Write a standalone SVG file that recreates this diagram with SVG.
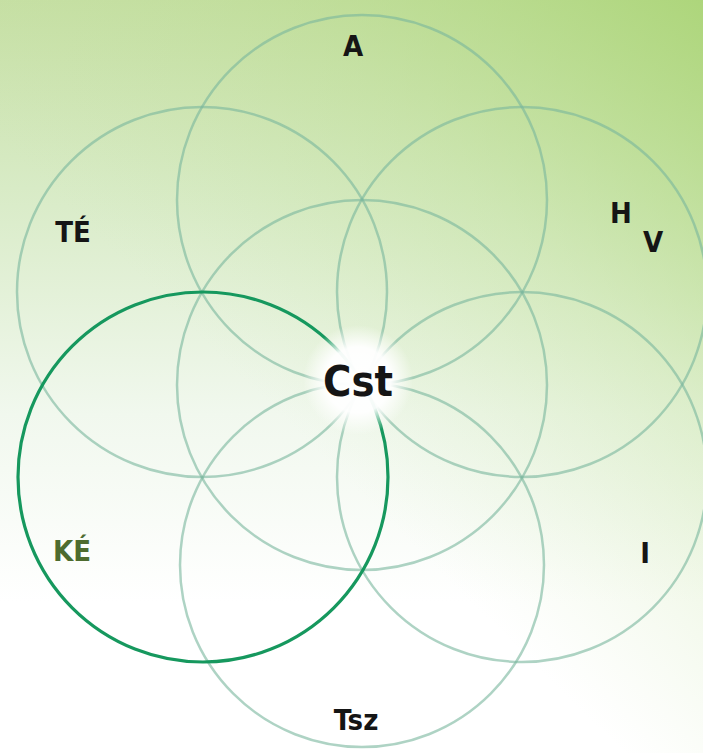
<svg xmlns="http://www.w3.org/2000/svg" width="703" height="753" viewBox="0 0 703 753">
  <defs>
    <linearGradient id="bg" x1="0" y1="0" x2="0" y2="1">
      <stop offset="0" stop-color="#c6dfa4"/>
      <stop offset="0.25" stop-color="#d8ebc6"/>
      <stop offset="0.55" stop-color="#f1f8ee"/>
      <stop offset="0.8" stop-color="#ffffff"/>
    </linearGradient>
    <linearGradient id="bg2" x1="1" y1="0" x2="0.45" y2="0.6">
      <stop offset="0" stop-color="#a9d474" stop-opacity="0.85"/>
      <stop offset="0.5" stop-color="#b8dc8c" stop-opacity="0.35"/>
      <stop offset="1" stop-color="#c8e4a8" stop-opacity="0"/>
    </linearGradient>
    <radialGradient id="glow" cx="0.5" cy="0.5" r="0.5">
      <stop offset="0" stop-color="#ffffff" stop-opacity="1"/>
      <stop offset="0.6" stop-color="#ffffff" stop-opacity="0.95"/>
      <stop offset="1" stop-color="#ffffff" stop-opacity="0"/>
    </radialGradient>
    <style>
      .c { fill: none; stroke: #78b59c; stroke-opacity: 0.6; stroke-width: 2.5; }
      .hl { fill: none; stroke: #16985e; stroke-width: 3.2; }
      .lbl { font-family: "DejaVu Sans Condensed", "Open Sans", "Liberation Sans", sans-serif; font-weight: bold; fill: #151515; text-anchor: middle; }
    </style>
  </defs>
  <rect width="703" height="753" fill="url(#bg)"/>
  <rect width="703" height="753" fill="url(#bg2)"/>
  <g id="connectors">
    <circle id="circle-A" class="c" cx="362" cy="200" r="185"/>
    <circle id="circle-TE" class="c" cx="202" cy="292" r="185"/>
    <circle id="circle-HV" class="c" cx="522" cy="292" r="185"/>
    <circle id="circle-Cst" class="c" cx="362" cy="385" r="185"/>
    <circle id="circle-I" class="c" cx="522" cy="477" r="185"/>
    <circle id="circle-Tsz" class="c" cx="362" cy="565" r="182"/>
    <circle id="circle-KE" class="hl" cx="203" cy="477" r="185"/>
  </g>
  <g id="node-Cst">
    <circle cx="358" cy="380" r="55" fill="url(#glow)"/>
    <text class="lbl" x="358" y="396" font-size="43">Cst</text>
  </g>
  <g id="node-A"><text class="lbl" x="353" y="56" font-size="29">A</text></g>
  <g id="node-TE"><text class="lbl" x="73" y="242" font-size="29">TÉ</text></g>
  <g id="node-HV">
    <text class="lbl" x="621" y="223" font-size="29">H</text>
    <text class="lbl" x="653" y="252" font-size="29">V</text>
  </g>
  <g id="node-KE"><text class="lbl" x="72" y="561" font-size="29" style="fill:#4d6b2f">KÉ</text></g>
  <g id="node-I"><text class="lbl" x="645" y="563" font-size="29">I</text></g>
  <g id="node-Tsz"><text class="lbl" x="356" y="730" font-size="29">Tsz</text></g>
</svg>
